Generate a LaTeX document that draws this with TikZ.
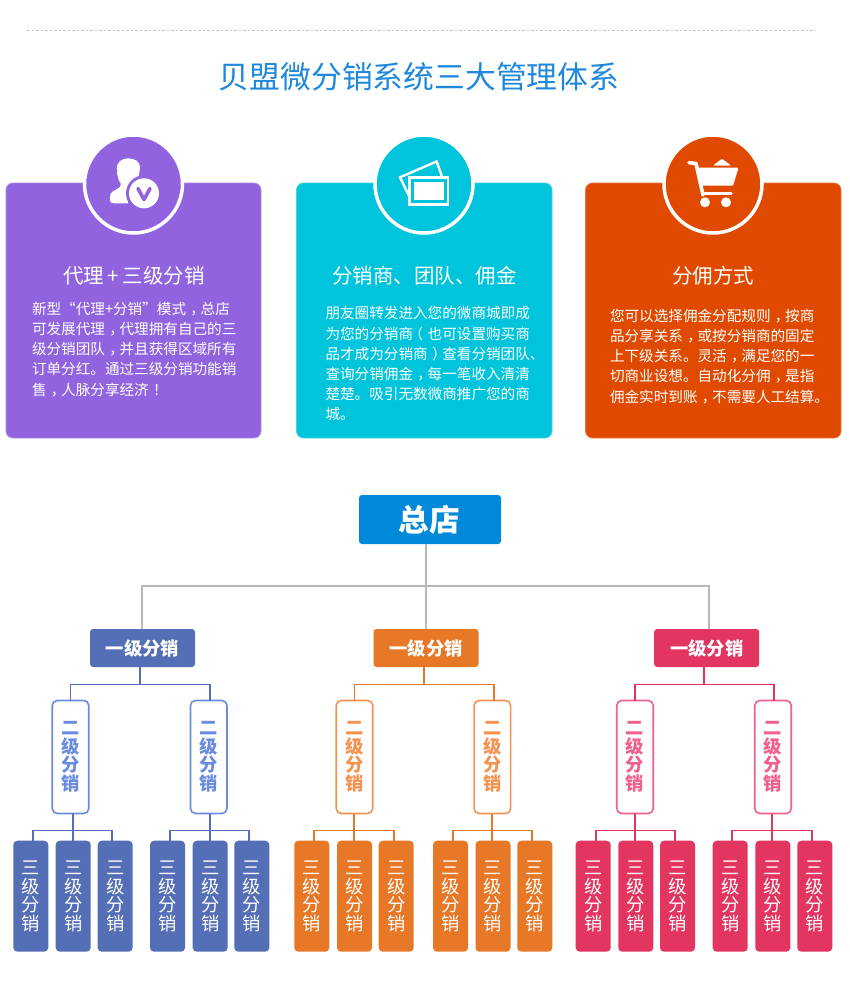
\documentclass[tikz,border=0pt]{standalone}
\usepackage{fontspec}
\setmainfont{Noto Sans CJK SC}
\definecolor{cpurple}{HTML}{9163DF}
\definecolor{ccyan}{HTML}{00C4DC}
\definecolor{cfire}{HTML}{E04A00}
\definecolor{ctitle}{HTML}{1F88DC}
\definecolor{croot}{HTML}{0089DA}
\definecolor{cgray}{HTML}{B8B8B8}
\definecolor{cblue}{HTML}{546FB5}
\definecolor{cblueL}{HTML}{6A8BE0}
\definecolor{corange}{HTML}{E77827}
\definecolor{corangeL}{HTML}{F59250}
\definecolor{cred}{HTML}{E23560}
\definecolor{credL}{HTML}{F0608A}
\tikzset{
  every node/.style={inner sep=0pt,outer sep=0pt},
  card/.style={rounded corners=7pt,fill=#1,draw=#1!75!white,line width=0.8pt},
  badge/.style={circle,fill=#1,draw=white,line width=3.5pt,minimum size=98pt},
  cardtitle/.style={text=white,font=\fontsize{20.5}{24}\selectfont},
  cardbody/.style={text=white,align=left,anchor=north west,font=\fontsize{14.6}{20.2}\selectfont},
  rootbox/.style={rounded corners=3pt,fill=croot,text=white,minimum width=142pt,minimum height=49pt,font=\fontsize{30.5}{34}\bfseries\selectfont},
  lone/.style={rounded corners=3pt,fill=#1,text=white,minimum width=105pt,minimum height=38pt,font=\fontsize{18.3}{22}\bfseries\selectfont},
  ltwo/.style={rounded corners=5pt,fill=white,draw=#1,line width=1.6pt,text=#1,minimum width=36.5pt,minimum height=113pt,align=center,font=\fontsize{18.3}{18.5}\bfseries\selectfont},
  lthree/.style={rounded corners=4pt,fill=#1,text=white,minimum width=35pt,minimum height=111pt,align=center,font=\fontsize{18.3}{18.5}\selectfont},
  trunk/.style={draw=cgray,line width=2pt},
  conn/.style={draw=#1,line width=1.9pt},
  icon/.style={fill=white,draw=none},
}
% #1 parent, #2 stem shift, #3 first child, #4 middle child, #5 last child, #6 first shift, #7 last shift, #8 bar offset, #9 colour
\newcommand{\forkthree}[9]{%
  \coordinate (st#1) at ([xshift=#2pt]#1.south);
  \draw[conn=#9] (st#1) -- (st#1 |- #4.north);
  \draw[conn=#9] (st#1) -- ++(0,#8) -| ([xshift=#6pt]#3.north);
  \draw[conn=#9] (st#1) -- ++(0,#8) -| ([xshift=#7pt]#5.north);
}
\newcommand{\stack}[1]{#1\\级\\分\\销}
% full-width punctuation set in the middle of its cell, as in the reference
\newcommand{\cma}{\hbox to 1em{\kern.3em，\hss}}
\newcommand{\exc}{\hbox to 1em{\kern.3em！\hss}}
\newcommand{\lpr}{\hbox to 1em{\kern-.3em（\hss}}
\newcommand{\rpr}{\hbox to 1em{\kern.3em）\hss}}
\begin{document}
\begin{tikzpicture}[x=1pt,y=-1pt]
\useasboundingbox (0,0) rectangle (850,990);
\fill[white] (0,0) rectangle (850,990);
\draw[draw=black!22,line width=0.8pt,dash pattern=on 2.5pt off 2pt] (27,30) -- (815,30);
\node[text=ctitle,font=\fontsize{30.8}{36}\selectfont] (title) at (419,77) {贝盟微分销系统三大管理体系};

% cards
\draw[card=cpurple] (6,183) rectangle (261,438);
\draw[card=ccyan] (296.5,183) rectangle (552,438);
\draw[card=cfire] (585.5,183) rectangle (841,438);
\node[badge=cpurple] (b1) at (133.5,184) {};
\node[badge=ccyan] (b2) at (424,184) {};
\node[badge=cfire] (b3) at (713,184) {};

% person icon
\fill[icon] (128,158.3) .. controls (135,158.3) and (140,162) .. (140,167) .. controls (140,172) and (138,180) .. (135,183) -- (131,190) -- (128,203.3) -- (114,203.3) .. controls (110,203.3) and (109.5,200) .. (110,197) .. controls (110.5,192) and (113,191) .. (116,189.5) .. controls (119,188) and (121,187) .. (121,184) .. controls (118,180) and (117,175) .. (117,170) .. controls (116,163) and (121,158.3) .. (128,158.3) -- cycle;
\fill[cpurple] (144,193.3) circle (18);
\fill[white] (144,193.3) circle (15);
\draw[cpurple,line width=3.6pt,line join=round,line cap=round] (138,188.5) -- (144,199.5) -- (150,188.5);

% pictures icon
\draw[white,line width=2.4pt,line join=miter] (409.5,197) -- (400,177.3) -- (436.6,161.5) -- (442,176.5);
\draw[white,line width=2.4pt,fill=ccyan] (409.5,177.5) rectangle (448,204.5);
\fill[white] (414.3,181.7) rectangle (444.3,199.9);

% cart icon
\draw[white,line width=3.6pt,line cap=round,line join=round] (689,162.7) -- (696,163.5) -- (703,195);
\draw[white,line width=3.4pt,line cap=round] (703,193.5) -- (731,193.5);
\fill[white,rounded corners=1pt] (698,167.7) -- (738.5,167.7) -- (733,185.7) -- (702,185.7) -- cycle;
\fill[white,rounded corners=1pt] (713,165.5) -- (722,158.7) -- (731,165.5) -- cycle;
\fill[white] (705,202.3) circle (5);
\fill[white] (726,202.3) circle (5);

% card texts
\node[cardtitle] (t1) at (134,275.5) {代理\,+\,三级分销};
\node[cardtitle] (t2) at (424.5,275.5) {分销商、团队、佣金};
\node[cardtitle] (t3) at (713,275.5) {分佣方式};
\node[cardbody] (d1) at (32,302) {新型“代理+分销”模式\cma 总店\\可发展代理\cma 代理拥有自己的三\\级分销团队\cma 并且获得区域所有\\订单分红。通过三级分销功能销\\售\cma 人脉分享经济\exc};
\node[cardbody] (d2) at (325.5,306.5) {朋友圈转发进入您的微商城即成\\为您的分销商\lpr 也可设置购买商\\品才成为分销商\rpr 查看分销团队、\\查询分销佣金\cma 每一笔收入清清\\楚楚。吸引无数微商推广您的商\\城。};
\node[cardbody] (d3) at (610,309) {您可以选择佣金分配规则\cma 按商\\品分享关系\cma 或按分销商的固定\\上下级关系。灵活\cma 满足您的一\\切商业设想。自动化分佣\cma 是指\\佣金实时到账\cma 不需要人工结算。};

% tree nodes
\node[rootbox] (root) at (430,519.5) {\raisebox{1.5pt}{总店\kern2pt}};
\node[lone=cblue] (A) at (142.5,648) {一级分销};
\node[lone=corange] (B) at (426,648) {一级分销};
\node[lone=cred] (C) at (706.7,648) {一级分销};

\node[ltwo=cblueL] (A1) at (70.5,757) {\stack{二}};
\node[ltwo=cblueL] (A2) at (208.7,757) {\stack{二}};
\node[ltwo=corangeL] (B1) at (354.5,757) {\stack{二}};
\node[ltwo=corangeL] (B2) at (492.3,757) {\stack{二}};
\node[ltwo=credL] (C1) at (635,757) {\stack{二}};
\node[ltwo=credL] (C2) at (773,757) {\stack{二}};

\foreach \n/\x in {A11/30.8,A12/73.2,A13/115.2,A21/167.5,A22/210.2,A23/251.8}
  \node[lthree=cblue] (\n) at (\x,896.2) {\stack{三}};
\foreach \n/\x in {B11/311.8,B12/354.5,B13/396.2,B21/450.5,B22/493,B23/534.8}
  \node[lthree=corange] (\n) at (\x,896.2) {\stack{三}};
\foreach \n/\x in {C11/593.2,C12/635.8,C13/677.5,C21/730.2,C22/772.8,C23/814.8}
  \node[lthree=cred] (\n) at (\x,896.2) {\stack{三}};

% connectors
\coordinate (rootstem) at ([xshift=-4.5pt]root.south);
\coordinate (bstop) at ([xshift=-2pt]B.north);
\coordinate (bar) at (rootstem |- 0,586);
\draw[trunk] (rootstem) -- (bstop -| rootstem);
\draw[trunk] (bar) -| ([xshift=-1pt]A.north);
\draw[trunk] (bar) -| ([xshift=2pt]C.north);

\coordinate (Ast) at ([xshift=-2.5pt]A.south);
\draw[conn=cblue] (Ast) -- ++(0,17.5) -| (A1.north);
\draw[conn=cblue] (Ast) -- ++(0,17.5) -| ([xshift=1.3pt]A2.north);
\coordinate (Bst) at ([xshift=-2.3pt]B.south);
\draw[conn=corange] (Bst) -- ++(0,17.5) -| (B1.north);
\draw[conn=corange] (Bst) -- ++(0,17.5) -| ([xshift=1.4pt]B2.north);
\coordinate (Cst) at ([xshift=-2.4pt]C.south);
\draw[conn=cred] (Cst) -- ++(0,17.5) -| (C1.north);
\draw[conn=cred] (Cst) -- ++(0,17.5) -| ([xshift=1.3pt]C2.north);

\forkthree{A1}{2.2}{A11}{A12}{A13}{2.2}{-2.9}{17}{cblue}
\forkthree{A2}{1.3}{A21}{A22}{A23}{2.5}{-2.5}{17}{cblue}
\forkthree{B1}{-0.2}{B11}{B12}{B13}{2.5}{-2.5}{17}{corange}
\forkthree{B2}{0}{B21}{B22}{B23}{2.5}{-2.5}{17}{corange}
\forkthree{C1}{0.3}{C11}{C12}{C13}{2.5}{-2.5}{17}{cred}
\forkthree{C2}{-1.3}{C21}{C22}{C23}{2.1}{-2.8}{17}{cred}
\end{tikzpicture}
\end{document}
